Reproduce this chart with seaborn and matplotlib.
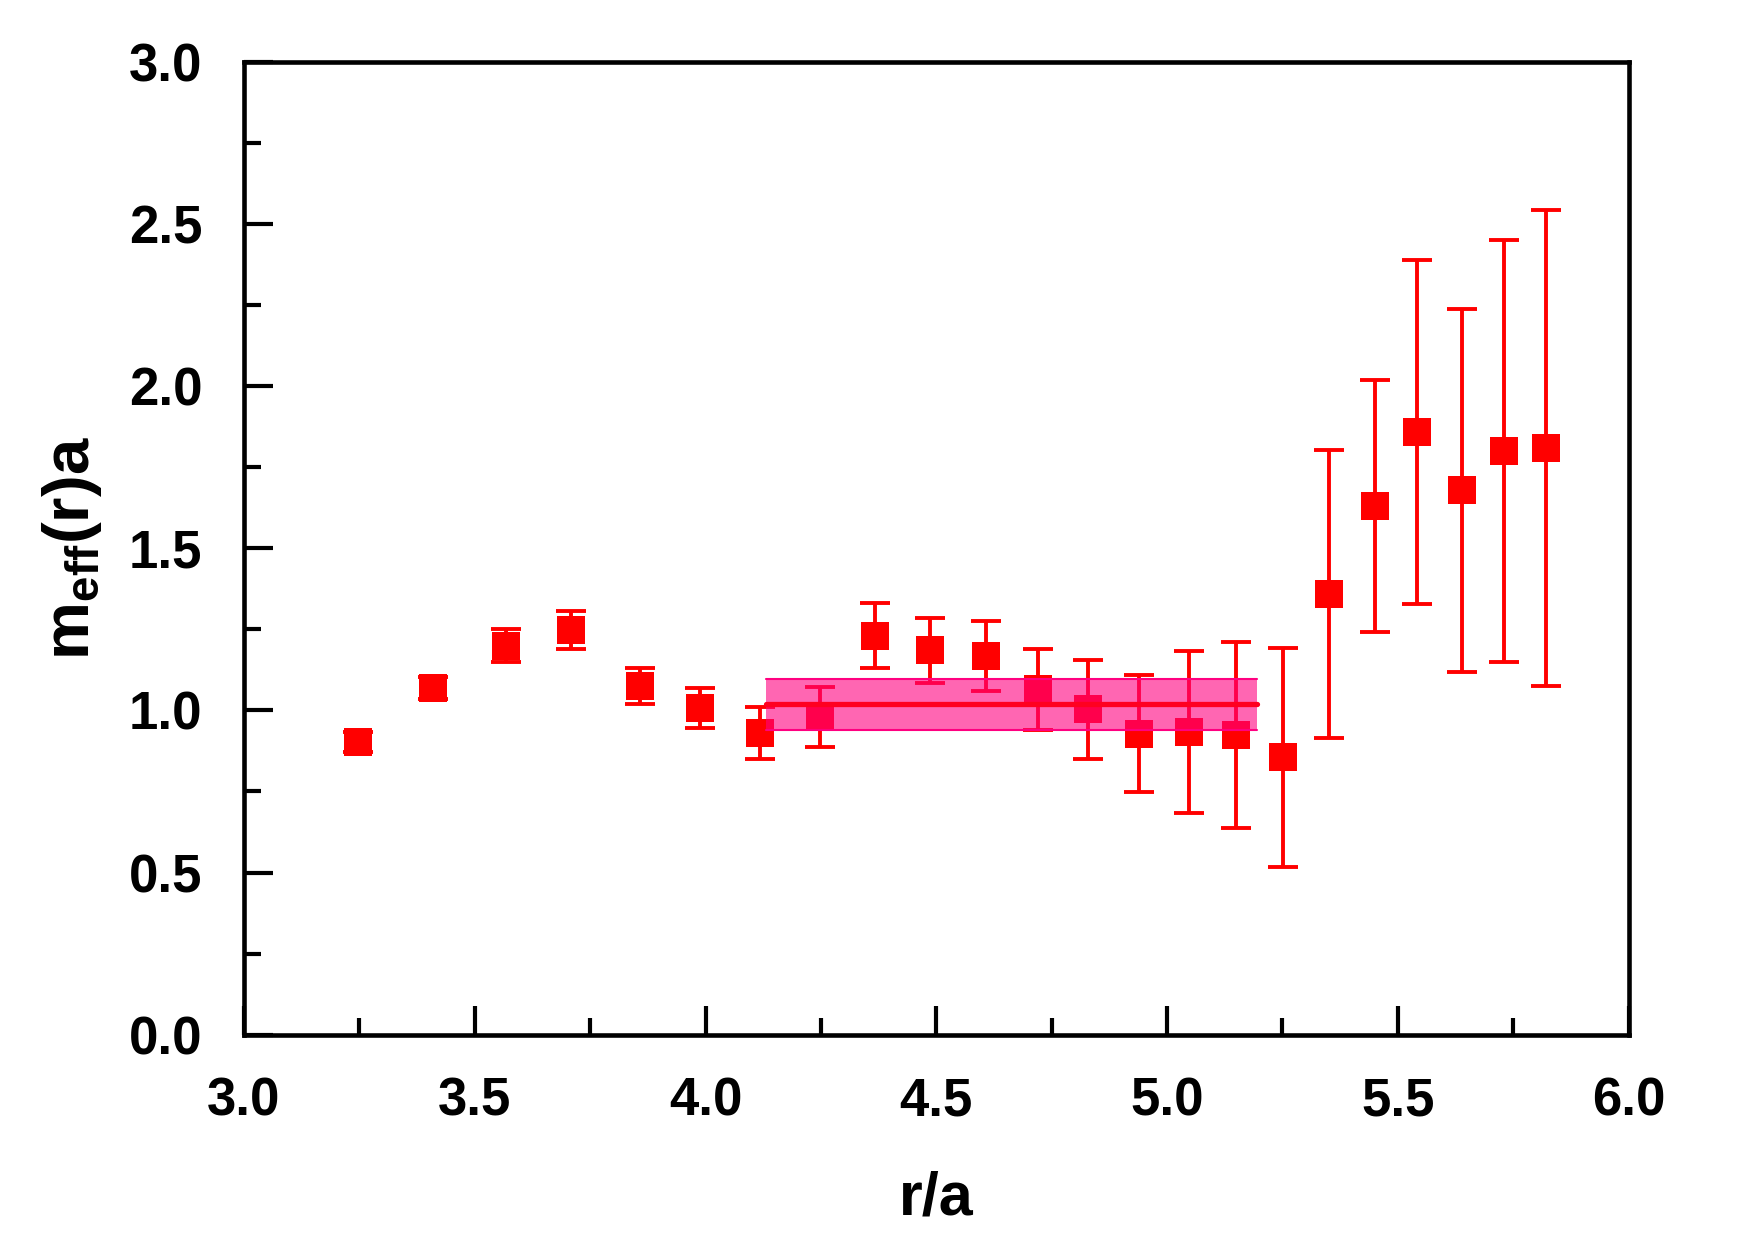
import numpy as np
import pandas as pd
import matplotlib
matplotlib.use('Agg')
import matplotlib.pyplot as plt
import seaborn as sns

# effective mass data
r_a = [3.247, 3.41, 3.568, 3.708, 3.859, 3.987, 4.118, 4.249, 4.368, 4.487, 4.608, 4.72,
       4.829, 4.94, 5.047, 5.149, 5.251, 5.35, 5.45, 5.542, 5.639, 5.731, 5.821]
m_eff = [0.903, 1.069, 1.2, 1.248, 1.076, 1.007, 0.931, 0.979, 1.231, 1.186, 1.169, 1.066,
         1.003, 0.928, 0.934, 0.924, 0.855, 1.359, 1.631, 1.859, 1.679, 1.8, 1.81]
m_err = [0.03, 0.035, 0.05, 0.06, 0.055, 0.062, 0.08, 0.093, 0.1, 0.1, 0.108, 0.125,
         0.152, 0.18, 0.25, 0.286, 0.337, 0.443, 0.388, 0.53, 0.56, 0.652, 0.735]

# fit band
fit_range = [4.13, 5.195]
fit_val = 1.021
fit_lo = 0.941
fit_hi = 1.097

df = pd.DataFrame({'r': r_a, 'm': m_eff, 'err': m_err})

sns.set_style('ticks')
plt.rcParams['font.family'] = ['Liberation Sans', 'DejaVu Sans']
plt.rcParams['font.weight'] = 'bold'
plt.rcParams['text.color'] = 'black'
plt.rcParams['axes.labelcolor'] = 'black'
plt.rcParams['xtick.color'] = 'black'
plt.rcParams['ytick.color'] = 'black'
plt.rcParams['mathtext.fontset'] = 'custom'
plt.rcParams['mathtext.bf'] = 'Liberation Sans:bold'
plt.rcParams['mathtext.rm'] = 'Liberation Sans:bold'

fig = plt.figure(figsize=(17.55, 12.42), dpi=100)
ax = fig.add_axes([0.139, 0.167, 0.789, 0.783])

ax.errorbar(df['r'], df['m'], yerr=df['err'], fmt='none', ecolor='#FF0000',
            elinewidth=2.8, capsize=11, capthick=2.8, zorder=2)
sns.scatterplot(data=df, x='r', y='m', marker='s', s=19.5**2, color='#FF0000',
                edgecolor='#FF0000', linewidth=0, ax=ax, zorder=3)

ax.fill_between(fit_range, [fit_lo, fit_lo], [fit_hi, fit_hi], color='#FF0080',
                alpha=0.6, linewidth=0, zorder=4)
ax.plot(fit_range, [fit_lo, fit_lo], color='#FF0080', lw=1.5, zorder=5)
ax.plot(fit_range, [fit_hi, fit_hi], color='#FF0080', lw=1.5, zorder=5)
ax.plot(fit_range, [fit_val, fit_val], color='#FF0020', lw=3.8, zorder=5)

ax.set_xlim(3.0, 6.0)
ax.set_ylim(0.0, 3.0)
ax.set_xticks(np.arange(3.0, 6.01, 0.5))
ax.set_yticks(np.arange(0.0, 3.01, 0.5))
ax.set_xticks(np.arange(3.25, 6.0, 0.5), minor=True)
ax.set_yticks(np.arange(0.25, 3.0, 0.5), minor=True)
ax.xaxis.set_major_formatter(matplotlib.ticker.FormatStrFormatter('%.1f'))
ax.yaxis.set_major_formatter(matplotlib.ticker.FormatStrFormatter('%.1f'))
ax.tick_params(which='major', direction='in', length=21, width=3, labelsize=38)
ax.tick_params(which='minor', direction='in', length=12, width=3)
ax.tick_params(axis='x', which='major', pad=30)
ax.tick_params(axis='y', which='major', pad=30)
for s in ax.spines.values():
    s.set_linewidth(3.3)
    s.set_color('black')
    s.set_visible(True)
for lab in ax.get_xticklabels() + ax.get_yticklabels():
    lab.set_fontweight('bold')

ax.set_xlabel('r/a', fontsize=44, fontweight='bold', labelpad=32)
ax.set_ylabel(r'm$_{\mathbf{eff}}$(r)a', fontsize=47, fontweight='bold', labelpad=18)

fig.savefig('out.png', dpi=100)
